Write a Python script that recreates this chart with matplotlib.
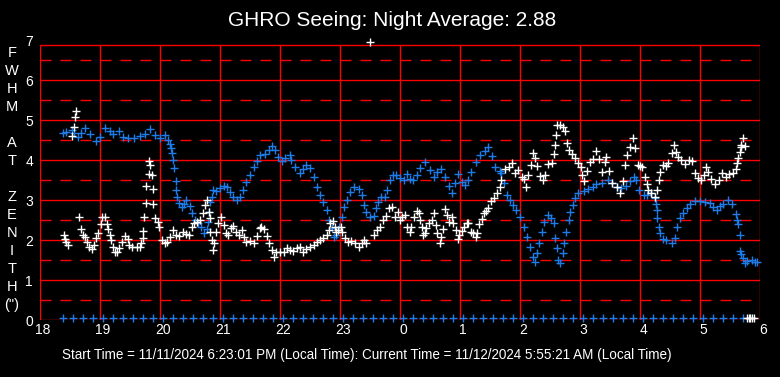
import matplotlib
matplotlib.use("Agg")
import matplotlib.pyplot as plt
import matplotlib.transforms as mtransforms
import numpy as np

plt.rcParams['lines.scale_dashes'] = False

# hours since midnight of 11/11 (24 = 0:00 next day)
blue_t = [18.39, 18.44, 18.53, 18.56, 18.64, 18.69, 18.75, 18.83, 18.94, 19.00,
          19.08, 19.17, 19.22, 19.31, 19.39, 19.47, 19.56, 19.67, 19.75, 19.83,
          19.92, 20.00, 20.08, 20.14, 20.17, 20.18, 20.20, 20.22, 20.24, 20.26,
          20.27, 20.29, 20.32, 20.36, 20.40, 20.44, 20.50, 20.54, 20.58, 20.64,
          20.69, 20.73, 20.78, 20.80, 20.82, 20.84, 20.86, 20.89, 20.94, 21.00,
          21.06, 21.11, 21.17, 21.22, 21.28, 21.33, 21.39, 21.44, 21.50, 21.56,
          21.61, 21.67, 21.75, 21.81, 21.86, 21.92, 21.97, 22.03, 22.08, 22.16,
          22.19, 22.25, 22.33, 22.39, 22.44, 22.50, 22.56, 22.61, 22.67, 22.72,
          22.78, 22.82, 22.86, 22.90, 22.94, 22.99, 23.03, 23.07, 23.11, 23.17,
          23.23, 23.31, 23.36, 23.40, 23.44, 23.50, 23.56, 23.60, 23.64, 23.69,
          23.75, 23.79, 23.83, 23.89, 23.94, 24.00, 24.06, 24.11, 24.17, 24.22,
          24.28, 24.33, 24.42, 24.50, 24.56, 24.61, 24.68, 24.75, 24.81, 24.86,
          24.92, 24.97, 25.03, 25.08, 25.14, 25.19, 25.27, 25.33, 25.42, 25.47,
          25.53, 25.58, 25.66, 25.69, 25.73, 25.78, 25.83, 25.89, 25.94, 26.00,
          26.06, 26.11, 26.16, 26.21, 26.25, 26.29, 26.32, 26.36, 26.40, 26.46,
          26.51, 26.56, 26.58, 26.61, 26.64, 26.67, 26.71, 26.74, 26.77, 26.81,
          26.83, 26.88, 26.92, 26.97, 27.06, 27.14, 27.21, 27.27, 27.36, 27.46,
          27.53, 27.61, 27.69, 27.77, 27.83, 27.90, 27.94, 27.99, 28.06, 28.12,
          28.19, 28.25, 28.27, 28.28, 28.29, 28.32, 28.34, 28.39, 28.44, 28.53,
          28.58, 28.62, 28.67, 28.72, 28.78, 28.83, 28.92, 29.00, 29.08, 29.17,
          29.22, 29.28, 29.33, 29.39, 29.47, 29.54, 29.60, 29.62, 29.64, 29.66,
          29.67, 29.69, 29.72, 29.75, 29.79, 29.86, 29.92, 29.95]
blue_v = [4.68, 4.71, 4.75, 4.67, 4.57, 4.67, 4.79, 4.65, 4.48, 4.58,
          4.79, 4.73, 4.65, 4.73, 4.58, 4.56, 4.54, 4.60, 4.65, 4.77,
          4.62, 4.54, 4.62, 4.50, 4.40, 4.29, 4.17, 3.99, 3.79, 3.47,
          3.25, 3.07, 2.93, 2.83, 2.90, 3.00, 2.85, 2.67, 2.50, 2.43,
          2.33, 2.18, 2.27, 2.46, 2.71, 2.96, 3.07, 3.25, 3.23, 3.29,
          3.35, 3.32, 3.21, 3.08, 3.00, 3.08, 3.25, 3.46, 3.62, 3.83,
          3.98, 4.12, 4.15, 4.25, 4.35, 4.25, 4.08, 3.98, 4.04, 4.12,
          4.00, 3.82, 3.68, 3.77, 3.88, 3.79, 3.58, 3.33, 3.12, 2.96,
          2.75, 2.50, 2.29, 2.08, 2.12, 2.33, 2.58, 2.83, 3.00, 3.21,
          3.33, 3.27, 3.12, 2.88, 2.71, 2.58, 2.60, 2.79, 2.96, 3.07,
          3.07, 3.25, 3.50, 3.62, 3.62, 3.54, 3.50, 3.65, 3.52, 3.50,
          3.62, 3.79, 3.96, 3.75, 3.58, 3.70, 3.77, 3.58, 3.35, 3.17,
          3.42, 3.65, 3.46, 3.38, 3.50, 3.71, 3.96, 4.12, 4.23, 4.33,
          4.10, 3.83, 3.73, 3.67, 3.42, 3.12, 3.00, 2.88, 2.75, 2.58,
          2.33, 2.08, 1.83, 1.58, 1.46, 1.67, 1.92, 2.21, 2.46, 2.62,
          2.54, 2.42, 2.04, 1.79, 1.50, 1.42, 1.67, 1.92, 2.21, 2.50,
          2.71, 2.87, 3.04, 3.17, 3.23, 3.27, 3.33, 3.40, 3.42, 3.50,
          3.42, 3.32, 3.30, 3.35, 3.48, 3.57, 3.50, 3.25, 3.12, 3.12,
          3.17, 3.04, 2.90, 2.75, 2.54, 2.33, 2.17, 2.02, 2.00, 1.93,
          2.04, 2.33, 2.54, 2.67, 2.79, 2.90, 2.98, 2.98, 2.96, 2.92,
          2.82, 2.75, 2.85, 2.90, 3.00, 2.90, 2.65, 2.50, 2.40, 2.12,
          1.73, 1.65, 1.54, 1.42, 1.48, 1.50, 1.46, 1.46]

white_t = [18.40, 18.42, 18.44, 18.46, 18.53, 18.57, 18.59, 18.60, 18.65, 18.68,
           18.71, 18.75, 18.78, 18.82, 18.86, 18.90, 18.93, 18.97, 19.01, 19.04,
           19.08, 19.11, 19.14, 19.16, 19.18, 19.21, 19.25, 19.29, 19.32, 19.36,
           19.42, 19.46, 19.49, 19.54, 19.61, 19.67, 19.69, 19.71, 19.72, 19.74,
           19.76, 19.77, 19.81, 19.82, 19.84, 19.86, 19.88, 19.89, 19.92, 19.96,
           19.99, 20.04, 20.08, 20.12, 20.17, 20.21, 20.27, 20.32, 20.38, 20.43,
           20.49, 20.53, 20.56, 20.61, 20.67, 20.71, 20.75, 20.78, 20.82, 20.83,
           20.84, 20.86, 20.88, 20.90, 20.93, 20.97, 21.01, 21.06, 21.10, 21.14,
           21.18, 21.22, 21.27, 21.31, 21.36, 21.40, 21.44, 21.50, 21.56, 21.61,
           21.66, 21.69, 21.73, 21.78, 21.82, 21.86, 21.90, 21.94, 22.00, 22.06,
           22.11, 22.17, 22.22, 22.28, 22.33, 22.39, 22.44, 22.50, 22.56, 22.61,
           22.67, 22.72, 22.78, 22.82, 22.84, 22.88, 22.91, 22.93, 22.97, 23.01,
           23.04, 23.08, 23.14, 23.19, 23.25, 23.31, 23.36, 23.40, 23.44, 23.50,
           23.57, 23.61, 23.67, 23.71, 23.77, 23.81, 23.86, 23.92, 23.96, 24.00,
           24.03, 24.08, 24.11, 24.16, 24.19, 24.23, 24.28, 24.31, 24.34, 24.36,
           24.39, 24.42, 24.44, 24.49, 24.53, 24.57, 24.60, 24.62, 24.66, 24.69,
           24.71, 24.75, 24.78, 24.82, 24.86, 24.89, 24.93, 24.96, 24.99, 25.03,
           25.07, 25.11, 25.14, 25.18, 25.22, 25.27, 25.29, 25.32, 25.36, 25.40,
           25.43, 25.47, 25.51, 25.56, 25.61, 25.66, 25.69, 25.75, 25.81, 25.86,
           25.92, 25.97, 26.03, 26.06, 26.10, 26.14, 26.18, 26.22, 26.25, 26.29,
           26.33, 26.38, 26.42, 26.47, 26.53, 26.57, 26.59, 26.60, 26.62, 26.67,
           26.71, 26.75, 26.78, 26.81, 26.86, 26.92, 26.97, 27.01, 27.04, 27.07,
           27.11, 27.17, 27.22, 27.27, 27.31, 27.36, 27.42, 27.44, 27.49, 27.54,
           27.61, 27.66, 27.71, 27.75, 27.79, 27.83, 27.88, 27.92, 27.96, 28.00,
           28.04, 28.08, 28.11, 28.14, 28.19, 28.25, 28.29, 28.32, 28.34, 28.39,
           28.43, 28.47, 28.53, 28.57, 28.60, 28.64, 28.69, 28.75, 28.81, 28.86,
           28.92, 28.97, 29.01, 29.06, 29.10, 29.14, 29.19, 29.25, 29.31, 29.36,
           29.43, 29.49, 29.55, 29.60, 29.62, 29.64, 29.66, 29.68, 29.69, 29.72,
           29.75]
white_v = [2.13, 2.02, 1.96, 1.88, 4.60, 4.82, 5.07, 5.22, 2.57, 2.27,
           2.13, 2.08, 1.96, 1.83, 1.77, 1.88, 2.04, 2.18, 2.40, 2.57,
           2.57, 2.40, 2.27, 2.13, 2.00, 1.83, 1.71, 1.71, 1.79, 1.96,
           2.10, 2.02, 1.88, 1.83, 1.82, 1.83, 1.92, 2.04, 2.23, 2.57,
           2.93, 3.35, 3.64, 3.98, 3.87, 3.62, 3.27, 2.90, 2.54, 2.46,
           2.33, 2.00, 1.92, 1.96, 2.08, 2.25, 2.13, 2.10, 2.21, 2.15,
           2.12, 2.33, 2.42, 2.46, 2.50, 2.67, 2.88, 3.00, 2.71, 2.54,
           2.21, 2.00, 1.75, 1.92, 2.21, 2.43, 2.57, 2.38, 2.17, 2.13,
           2.29, 2.35, 2.21, 2.13, 2.25, 2.08, 1.96, 1.97, 1.93, 2.10,
           2.29, 2.33, 2.27, 2.10, 1.92, 1.75, 1.58, 1.71, 1.70, 1.71,
           1.79, 1.75, 1.73, 1.79, 1.83, 1.71, 1.77, 1.83, 1.88, 1.96,
           2.00, 2.04, 2.13, 2.25, 2.42, 2.48, 2.33, 2.21, 2.25, 2.33,
           2.21, 2.04, 1.96, 1.98, 1.93, 1.83, 1.93, 2.00, 1.92, 6.95,
           2.13, 2.25, 2.33, 2.50, 2.60, 2.79, 2.83, 2.58, 2.71, 2.50,
           2.58, 2.62, 2.33, 2.21, 2.33, 2.58, 2.73, 2.67, 2.50, 2.33,
           2.13, 2.18, 2.29, 2.42, 2.50, 2.68, 2.38, 2.17, 1.92, 2.08,
           2.27, 2.77, 2.63, 2.46, 2.58, 2.42, 2.25, 2.02, 2.13, 2.23,
           2.33, 2.42, 2.43, 2.21, 2.18, 2.07, 2.17, 2.40, 2.52, 2.67,
           2.73, 2.79, 2.98, 3.04, 3.17, 3.33, 3.50, 3.77, 3.82, 3.93,
           3.68, 3.75, 3.58, 3.52, 3.33, 3.63, 3.88, 4.18, 4.04, 3.85,
           3.60, 3.50, 3.63, 3.90, 3.92, 4.15, 4.38, 4.63, 4.88, 4.88,
           4.83, 4.73, 4.43, 4.25, 4.15, 4.04, 3.93, 3.82, 3.63, 3.48,
           3.73, 3.96, 4.02, 4.23, 4.02, 3.71, 3.96, 4.08, 3.73, 3.43,
           3.33, 3.17, 3.48, 3.88, 4.13, 4.33, 4.54, 4.29, 3.88, 3.85,
           3.82, 3.58, 3.40, 3.25, 3.17, 3.07, 3.25, 3.50, 3.71, 3.88,
           3.86, 3.92, 4.18, 4.38, 4.21, 4.08, 4.00, 3.90, 4.00, 3.98,
           3.67, 3.54, 3.50, 3.63, 3.82, 3.71, 3.52, 3.40, 3.50, 3.68,
           3.58, 3.65, 3.67, 3.77, 3.93, 4.04, 4.21, 4.33, 4.38, 4.54,
           4.35]

# readings reported as zero
white_zero_t = [29.78, 29.81, 29.84, 29.87, 29.90]
blue_zero_t = np.arange(18.39, 29.75, 1 / 6)

hour_ticks = list(range(18, 31))
hour_labels = [str(h % 24) for h in hour_ticks]
fwhm_ticks = list(range(0, 8))
ylabel_chars = ['F', 'W', 'H', 'M', '', 'A', 'T', '', 'Z', 'E', 'N', 'I', 'T', 'H', '(")']

title = "GHRO Seeing: Night Average: 2.88"
footer = ("Start Time = 11/11/2024 6:23:01 PM (Local Time): "
          "Current Time = 11/12/2024 5:55:21 AM (Local Time)")

W, H = 780, 377
top_v = 6.875
red = '#ff0000'
blue = '#1e7ce8'
font = ['Liberation Sans', 'DejaVu Sans']

fig = plt.figure(figsize=(W / 100, H / 100), dpi=100, facecolor='black')
ax = fig.add_axes([40 / W, 57 / H, 720 / W, 280 / H], facecolor='black')
ax.set_xlim(18, 30)
ax.set_ylim(0, 7)
for s in ax.spines.values():
    s.set_visible(False)

# grid / frame
ax.vlines(hour_ticks, 0, top_v, color=red, lw=1.0, zorder=1)
ax.hlines(list(range(0, 7)) + [top_v], 18, 30, color=red, lw=1.0, zorder=1)
ax.hlines(np.arange(0.5, 6.6, 1.0), 18, 30, color=red, lw=1.0,
          linestyles=[(0, (7.9, 6.5))], zorder=1)

mk = dict(marker='+', ls='none', ms=5.5, mew=1.0, zorder=3, clip_on=False)
ax.plot(blue_t, blue_v, color=blue, **mk)
ax.plot(blue_zero_t, np.full(len(blue_zero_t), 0.04), color=blue, **mk)
ax.plot(white_t, white_v, color='white', **mk)
ax.plot(white_zero_t, [0.04] * len(white_zero_t), color='white', **mk)

ax.set_xticks(hour_ticks)
ax.set_xticklabels(hour_labels, family=font, fontsize=10, color='white')
ax.set_yticks(fwhm_ticks)
ax.set_yticklabels([str(v) for v in fwhm_ticks], family=font, fontsize=10, color='white')
ax.tick_params(axis='x', length=0, pad=2)
ax.tick_params(axis='y', length=0, pad=5)
shift = mtransforms.ScaledTranslation(3 / 100, 0, fig.dpi_scale_trans)
for lab in ax.get_xticklabels():
    lab.set_transform(lab.get_transform() + shift)

fig.text(392 / W, 1 - 20 / H, title, family=font, fontsize=15, color='white',
         ha='center', va='center')
fig.text(62 / W, 1 - 355 / H, footer, family=font, fontsize=9.75, color='white',
         ha='left', va='center')
for i, ch in enumerate(ylabel_chars):
    if ch:
        fig.text(12 / W, 1 - (53 + 18 * i) / H, ch, family=font, fontsize=10.5,
                 color='white', ha='center', va='center')

fig.savefig('out.png', dpi=100, facecolor='black')
